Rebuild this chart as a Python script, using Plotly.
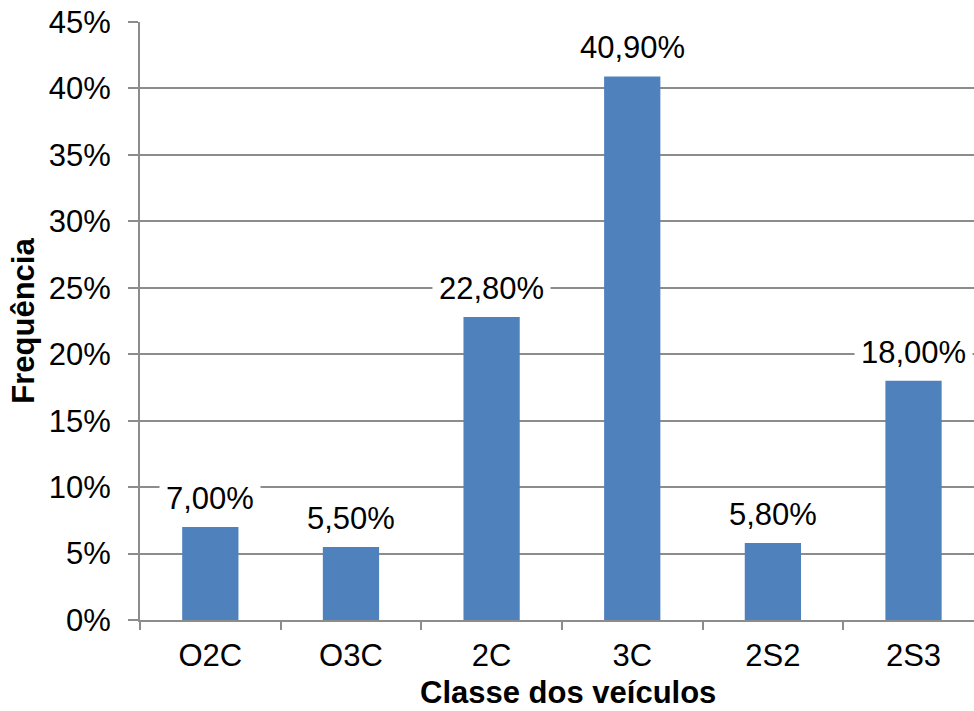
import plotly.graph_objects as go

# Vehicle class frequency distribution (%)
categories = ["O2C", "O3C", "2C", "3C", "2S2", "2S3"]
frequency = [7.00, 5.50, 22.80, 40.90, 5.80, 18.00]

BAR_COLOR = "#4F81BD"
GRID_COLOR = "#8C8C8C"
FONT = "Liberation Sans, Arial, sans-serif"
FS = 31

fig = go.Figure(
    go.Bar(
        x=categories,
        y=frequency,
        marker=dict(color=BAR_COLOR, line=dict(width=0)),
        width=0.4,
        hoverinfo="skip",
    )
)

# Value labels with white boxes, Brazilian decimal comma
for cat, val in zip(categories, frequency):
    fig.add_annotation(
        x=cat,
        y=val,
        yanchor="bottom",
        yshift=4,
        text=f"{val:.2f}%".replace(".", ","),
        showarrow=False,
        bgcolor="white",
        borderpad=6,
        font=dict(family=FONT, size=FS, color="black"),
    )

# x-axis title placed below the category labels
fig.add_annotation(
    xref="paper",
    yref="paper",
    x=0.513,
    y=0,
    yshift=-72,
    xanchor="center",
    yanchor="middle",
    borderpad=0,
    text="<b>Classe dos veículos</b>",
    showarrow=False,
    font=dict(family=FONT, size=FS, color="black"),
)

fig.update_layout(
    width=974,
    height=711,
    margin=dict(l=140, r=0, t=22, b=91),
    paper_bgcolor="white",
    plot_bgcolor="white",
    showlegend=False,
    font=dict(family=FONT, size=FS, color="black"),
    xaxis=dict(
        range=[-0.5, 5.43],
        showgrid=False,
        showline=True,
        linecolor=GRID_COLOR,
        linewidth=2,
        ticks="outside",
        tickson="boundaries",
        ticklen=8,
        tickwidth=2,
        tickcolor=GRID_COLOR,
        ticklabelstandoff=7,
        tickfont=dict(family=FONT, size=FS),
        automargin=False,
    ),
    yaxis=dict(
        range=[0, 45],
        dtick=5,
        ticksuffix="%",
        showgrid=True,
        gridcolor=GRID_COLOR,
        gridwidth=2,
        zeroline=False,
        showline=True,
        linecolor=GRID_COLOR,
        linewidth=2,
        ticks="outside",
        ticklen=10,
        tickwidth=2,
        tickcolor=GRID_COLOR,
        ticklabelstandoff=11,
        tickfont=dict(family=FONT, size=FS),
        automargin=False,
        title=dict(
            text="<b>Frequência</b>",
            font=dict(family=FONT, size=FS),
            standoff=5,
        ),
    ),
)

fig.write_html("out.html")
